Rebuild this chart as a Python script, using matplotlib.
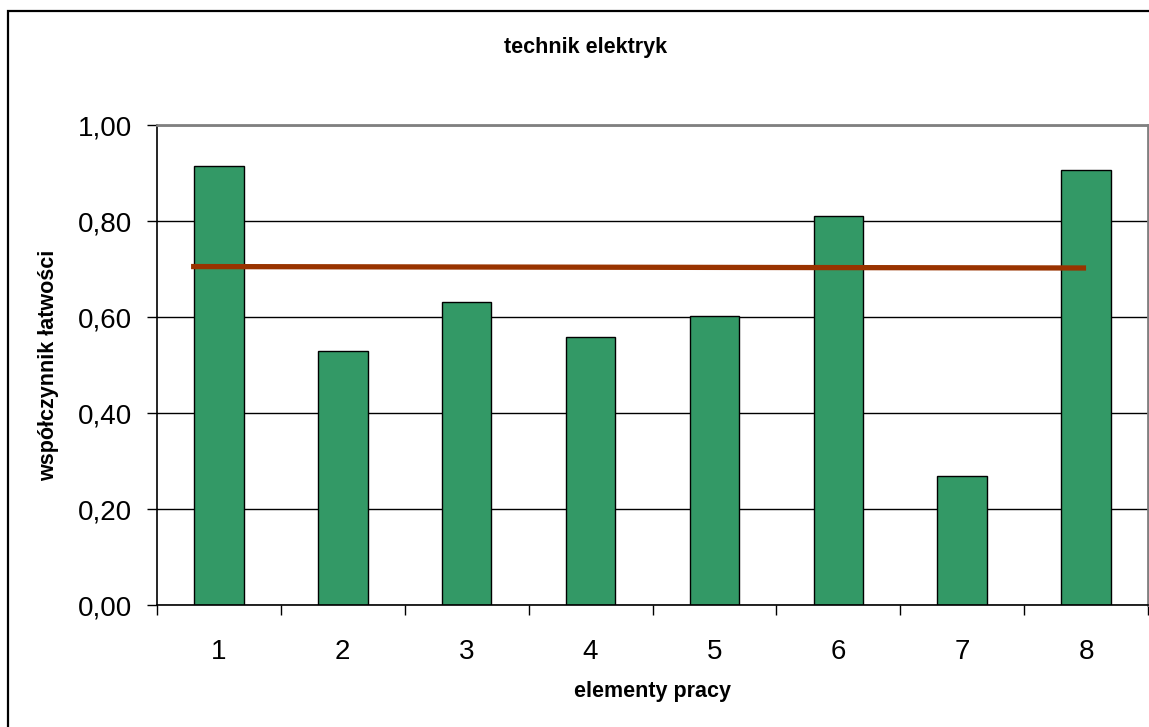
import matplotlib
matplotlib.use("Agg")
import matplotlib.pyplot as plt
from matplotlib.patches import Rectangle
from matplotlib.ticker import FuncFormatter
import numpy as np

plt.rcParams['font.family'] = ['Liberation Sans', 'DejaVu Sans']

# Data
categories = ['1', '2', '3', '4', '5', '6', '7', '8']
ease_values = [0.915, 0.529, 0.633, 0.559, 0.602, 0.811, 0.270, 0.907]
# average line (slightly sloping, as drawn in the original)
avg_x = [0.775, 8.0]
avg_y = [0.706, 0.703]

bar_color = '#339966'
line_color = '#993300'

fig = plt.figure(figsize=(11.49, 7.27), dpi=100)
ax = fig.add_axes([157 / 1149, 121.7 / 727, 991 / 1149, 479.8 / 727])

x = np.arange(1, len(categories) + 1)
ax.bar(x, ease_values, width=0.4, color=bar_color, edgecolor='black', linewidth=1.0, zorder=2)
ax.plot(avg_x, avg_y, color=line_color, linewidth=3.8, solid_capstyle='butt', zorder=3)

ax.set_xlim(0.5, len(categories) + 0.5)
ax.set_ylim(0, 1.0)

# y axis
ax.set_yticks(np.arange(0, 1.01, 0.2))
ax.yaxis.set_major_formatter(FuncFormatter(lambda v, p: f"{v:.2f}".replace('.', ',')))
ax.tick_params(axis='y', direction='out', length=7.2, width=1.0, pad=11, labelsize=20)
ax.set_axisbelow(True)
ax.grid(True, axis='y', color='black', linewidth=1.0)

# x axis: ticks at category boundaries, labels at centres
ax.set_xticks(np.arange(0.5, len(categories) + 1, 1.0))
ax.set_xticklabels([])
ax.set_xticks(x, minor=True)
ax.set_xticklabels(categories, minor=True)
ax.tick_params(axis='x', which='major', direction='out', length=7.2, width=1.0)
ax.tick_params(axis='x', which='minor', length=0, pad=24, labelsize=20)

for side in ['left', 'bottom']:
    ax.spines[side].set_color('black')
    ax.spines[side].set_linewidth(1.2)
for side in ['top', 'right']:
    ax.spines[side].set_color('#808080')
    ax.spines[side].set_linewidth(2.0)

# titles
fig.text(586 / 1149, 1 - 47 / 727, 'technik elektryk', ha='center', va='center',
         fontsize=15.5, fontweight='bold')
fig.text(652 / 1149, 1 - 692 / 727, 'elementy pracy', ha='center', va='center',
         fontsize=15.5, fontweight='bold')
fig.text(49 / 1149, 1 - 365 / 727, 'współczynnik łatwości', ha='center', va='center',
         rotation=90, fontsize=15.5, fontweight='bold')

# chart area border (runs off the right and bottom edges)
fig.patches.append(Rectangle((8 / 1149, -0.1), 1.2, 1 - 11 / 727 + 0.1,
                             transform=fig.transFigure, fill=False,
                             edgecolor='black', linewidth=1.6))

fig.savefig('out.png', dpi=100)
